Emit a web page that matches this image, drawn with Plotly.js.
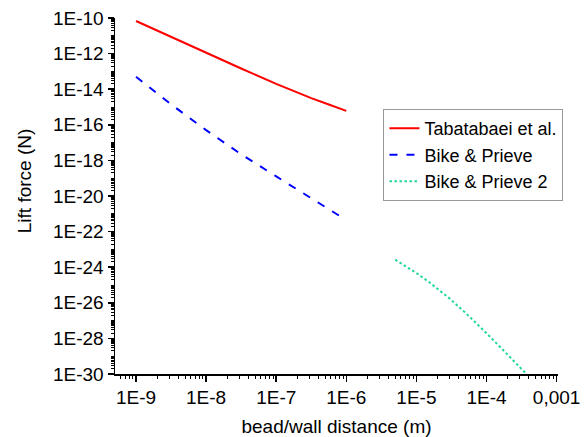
<!DOCTYPE html>
<html>
<head>
<meta charset="utf-8">
<script src="https://cdn.plot.ly/plotly-3.0.1.min.js"></script>
<style>html,body{margin:0;padding:0;background:#fff;}#chart{width:586px;height:437px;}</style>
</head>
<body>
<div id="chart"></div>
<script>
// Tabatabaei et al.
var tabX = [1e-9, 3.16e-9, 1e-8, 3.16e-8, 1e-7, 1.78e-7, 3.16e-7, 5.62e-7, 1e-6];
var tabY = [6.76e-11, 8.5e-12, 1.10e-12, 1.45e-13, 2.0e-14, 7.76e-15, 3.16e-15, 1.38e-15, 6.1e-16];
// Bike & Prieve
var bpX = [1e-9, 3.16e-9, 1e-8, 3.16e-8, 1e-7, 3.16e-7, 8.2e-7];
var bpY = [5.0e-14, 1.4e-15, 5.0e-17, 2.2e-18, 1.26e-19, 7.9e-21, 7.2e-22];
// Bike & Prieve 2
var bp2X = [5e-6, 7e-6, 1e-5, 1.5e-5, 2e-5, 3e-5, 5e-5, 7e-5, 1e-4, 1.5e-4, 2e-4, 3e-4, 4e-4];
var bp2Y = [2.63e-24, 1.17e-24, 4.68e-25, 1.51e-25, 6.3e-26, 1.70e-26, 2.75e-27, 7.8e-28, 1.95e-28, 3.9e-29, 1.23e-29, 2.4e-30, 7.4e-31];

var seriesNames = ["Tabatabaei et al.", "Bike & Prieve", "Bike & Prieve 2"];

var xTickVals = [1e-9, 1e-8, 1e-7, 1e-6, 1e-5, 1e-4, 1e-3];
var xTickText = ["1E-9", "1E-8", "1E-7", "1E-6", "1E-5", "1E-4", "0,001"];
var yTickVals = [1e-10, 1e-12, 1e-14, 1e-16, 1e-18, 1e-20, 1e-22, 1e-24, 1e-26, 1e-28, 1e-30];
var yTickText = ["1E-10", "1E-12", "1E-14", "1E-16", "1E-18", "1E-20", "1E-22", "1E-24", "1E-26", "1E-28", "1E-30"];

function minorTicks(n0, n1) {
  var v = [];
  for (var n = n0; n <= n1; n++) {
    for (var k = 1; k <= 9; k++) v.push(k * Math.pow(10, n));
  }
  return v;
}

var FONT = "Liberation Sans, Arial, sans-serif";

var traces = [
  {x: tabX, y: tabY, name: seriesNames[0], mode: "lines", type: "scatter",
   line: {color: "#ff0000", width: 2}},
  {x: bpX, y: bpY, name: seriesNames[1], mode: "lines", type: "scatter",
   line: {color: "#0000ff", width: 2, dash: "8px,9px"}},
  {x: bp2X, y: bp2Y, name: seriesNames[2], mode: "lines", type: "scatter",
   line: {color: "#1fd894", width: 2, dash: "2.5px,2.5px"}}
];

var layout = {
  width: 586, height: 437,
  margin: {l: 115, r: 28, t: 18, b: 63, pad: 0},
  paper_bgcolor: "#ffffff", plot_bgcolor: "#ffffff",
  font: {family: FONT, size: 19, color: "#000"},
  showlegend: true,
  legend: {
    x: 0.606, y: 0.744, xanchor: "left", yanchor: "top",
    bgcolor: "#ffffff", bordercolor: "#999999", borderwidth: 1,
    font: {family: FONT, size: 18, color: "#000"},
    tracegroupgap: 0
  },
  xaxis: {
    type: "log", range: [-9.30, -2.98],
    showgrid: false, zeroline: false,
    showline: true, linecolor: "#000", linewidth: 1.5, mirror: false,
    ticks: "outside", ticklen: 6, tickwidth: 1.5, tickcolor: "#000",
    tickmode: "array", tickvals: xTickVals, ticktext: xTickText,
    tickfont: {family: FONT, size: 19, color: "#000"},
    minor: {tickmode: "array", tickvals: minorTicks(-10, -3), ticks: "outside", ticklen: 3, tickwidth: 1, tickcolor: "#000", showgrid: false},
    title: {text: "bead/wall distance (m)", font: {family: FONT, size: 19, color: "#000"}, standoff: 12}
  },
  yaxis: {
    type: "log", range: [-30, -10],
    showgrid: false, zeroline: false,
    showline: true, linecolor: "#000", linewidth: 1.5, mirror: false,
    ticks: "outside", ticklen: 6, tickwidth: 1.5, tickcolor: "#000",
    tickmode: "array", tickvals: yTickVals, ticktext: yTickText,
    tickfont: {family: FONT, size: 19, color: "#000"},
    minor: {tickmode: "array", tickvals: minorTicks(-31, -10), ticks: "outside", ticklen: 3, tickwidth: 1, tickcolor: "#000", showgrid: false}
  },
  annotations: [{
    text: "Lift force (N)", textangle: -90,
    xref: "paper", yref: "paper", x: -0.205, y: 0.542,
    xanchor: "center", yanchor: "middle", showarrow: false,
    font: {family: FONT, size: 19, color: "#000"}
  }]
};

Plotly.newPlot("chart", traces, layout, {displayModeBar: false, staticPlot: true});
</script>
</body>
</html>
